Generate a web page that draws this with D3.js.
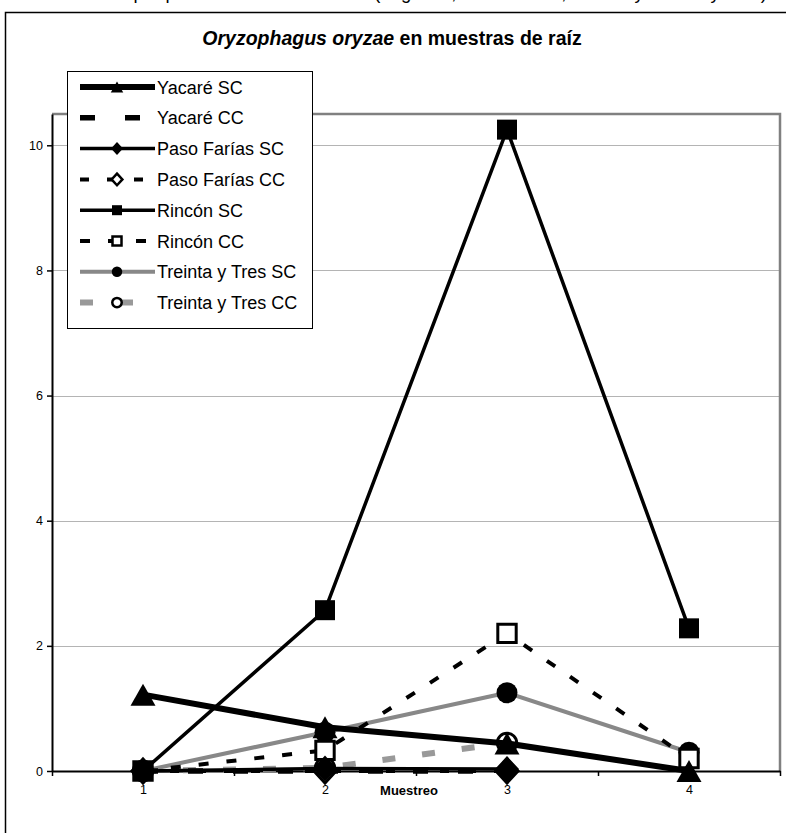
<!DOCTYPE html>
<html><head><meta charset="utf-8">
<script src="https://cdn.jsdelivr.net/npm/d3@7"></script>
<style>
body{margin:0;background:#fff}
svg{display:block;font-family:"Liberation Sans",Arial,sans-serif}
</style>
</head><body>
<svg id="c" width="786" height="833"></svg>
<script>
// ---- data ----
const samples = [1, 2, 3, 4];
const yTicks = [0, 2, 4, 6, 8, 10];
const seriesNames = ["Yacaré SC", "Yacaré CC", "Paso Farías SC", "Paso Farías CC",
                     "Rincón SC", "Rincón CC", "Treinta y Tres SC", "Treinta y Tres CC"];
const yacareSC      = [1.22, 0.70, 0.44, 0];
const yacareCC      = [0, 0, 0, null];
const pasoFariasSC  = [0, 0.04, 0.03, null];
const pasoFariasCC  = [0, 0, 0, null];
const rinconSC      = [0, 2.57, 10.25, 2.28];
const rinconCC      = [0, 0.33, 2.20, 0.20];
const treintaSC     = [0, 0.62, 1.25, 0.30];
const treintaCC     = [0, 0.05, 0.45, null];
const seriesValues = [yacareSC, yacareCC, pasoFariasSC, pasoFariasCC, rinconSC, rinconCC, treintaSC, treintaCC];
const titleItalic = "Oryzophagus oryzae";
const titleRest = " en muestras de raíz";
const xTitle = "Muestreo";
const caption = "Larvas por planta en cada muestreo (Lagunas, Paso Farías, Rincón y Treinta y Tres)";

// ---- styles ----
const styles = [
  {color:"#000", w:6,   dash:null,    marker:"tri",     fill:"#000"},
  {color:"#000", w:5.5, dash:"15,30", marker:null},
  {color:"#000", w:3.5, dash:null,    marker:"diamond", fill:"#000"},
  {color:"#000", w:4,   dash:"9,18",  marker:"diamond", fill:"#fff"},
  {color:"#000", w:3.5, dash:null,    marker:"square",  fill:"#000"},
  {color:"#000", w:4,   dash:"10,18", marker:"square",  fill:"#fff"},
  {color:"#888", w:4,   dash:null,    marker:"circle",  fill:"#000"},
  {color:"#999", w:6,   dash:"13,27", marker:"circle",  fill:"#fff"}
];

const svg = d3.select("#c");
const W = 786, H = 833;
const L = 52, R = 780, T = 114, B = 771;

const x = d3.scaleLinear().domain([0.5, 4.5]).range([L, R]);
const y = d3.scaleLinear().domain([0, 10.5]).range([B, T]);

svg.append("rect").attr("width", W).attr("height", H).attr("fill", "#fff");

// caption above the chart frame (only its lower edge is in view, as in the original)
svg.append("text").attr("x", 767).attr("y", -1).attr("text-anchor", "end")
  .attr("font-size", 18.5).text(caption);

// outer frame
svg.append("path").attr("d", `M5.5,${H} V12.5 H${W}`).attr("fill", "none")
  .attr("stroke", "#000").attr("stroke-width", 1.5);

// title
const title = svg.append("text").attr("x", 392).attr("y", 45).attr("text-anchor", "middle")
  .attr("font-size", 19.5).attr("font-weight", "bold");
title.append("tspan").attr("font-style", "italic").text(titleItalic);
title.append("tspan").text(titleRest);

// gridlines
svg.append("g").selectAll("line").data(yTicks.filter(d => d > 0)).join("line")
  .attr("x1", L).attr("x2", R).attr("y1", d => Math.round(y(d)) + 0.5).attr("y2", d => Math.round(y(d)) + 0.5)
  .attr("stroke", "#b4b4b4").attr("stroke-width", 1);

// plot border top/right
svg.append("path").attr("d", `M${L},${T} H${R} V${B}`).attr("fill", "none")
  .attr("stroke", "#808080").attr("stroke-width", 2.5);

// y axis
const yAxis = svg.append("g").attr("transform", `translate(${L},0)`)
  .call(d3.axisLeft(y).tickValues(yTicks).tickSize(5).tickSizeOuter(0).tickFormat(d3.format("d")));
yAxis.select(".domain").attr("stroke", "#000").attr("stroke-width", 2);
yAxis.selectAll(".tick line").attr("stroke", "#000").attr("stroke-width", 1.5);
yAxis.selectAll("text").attr("font-size", 12.5).attr("font-family", "Liberation Sans, Arial, sans-serif").attr("x", -9);

// x axis: tick marks at category boundaries, labels at centers
const xTickAxis = svg.append("g").attr("transform", `translate(0,${B})`)
  .call(d3.axisBottom(x).tickValues([0.5, 1.5, 2.5, 3.5, 4.5]).tickSize(5).tickSizeOuter(0).tickFormat(""));
xTickAxis.select(".domain").attr("stroke", "#000").attr("stroke-width", 2);
xTickAxis.selectAll(".tick line").attr("stroke", "#000").attr("stroke-width", 1.5);
const xLabAxis = svg.append("g").attr("transform", `translate(0,${B})`)
  .call(d3.axisBottom(x).tickValues(samples).tickSize(0).tickPadding(14).tickFormat(d3.format("d")));
xLabAxis.select(".domain").remove();
xLabAxis.selectAll("text").attr("font-size", 12.5).attr("font-family", "Liberation Sans, Arial, sans-serif");

svg.append("text").attr("x", 409).attr("y", 795).attr("text-anchor", "middle")
  .attr("font-size", 13).attr("font-weight", "bold").text(xTitle);

// marker path builder
function markerPath(type, s) {
  if (type === "tri") { const w = 25 * s, h = 22 * s; return `M0,${-h/2}L${w/2},${h/2}L${-w/2},${h/2}Z`; }
  if (type === "diamond") { const w = 24 * s, h = 26 * s; return `M0,${-h/2}L${w/2},0L0,${h/2}L${-w/2},0Z`; }
  if (type === "square") { const a = 20 * s; return `M${-a/2},${-a/2}h${a}v${a}h${-a}Z`; }
  if (type === "circle") { const r = 10.5 * s; return d3.arc()({innerRadius:0, outerRadius:r, startAngle:0, endAngle:2*Math.PI}); }
  return null;
}

const line = d3.line().defined(d => d.v != null).x(d => x(d.s)).y(d => y(d.v));

// series (drawn in reverse order, as in the original)
const plot = svg.append("g");
for (let i = seriesValues.length - 1; i >= 0; i--) {
  const st = styles[i];
  const pts = samples.map((s, k) => ({s, v: seriesValues[i][k]}));
  plot.append("path").datum(pts).attr("d", line).attr("fill", "none")
    .attr("stroke", st.color).attr("stroke-width", st.w)
    .attr("stroke-dasharray", st.dash).attr("stroke-linejoin", "round");
  if (st.marker) {
    const open = st.fill === "#fff";
    const sc = open ? 0.92 : 1;
    plot.append("g").selectAll("path").data(pts.filter(d => d.v != null)).join("path")
      .attr("transform", d => `translate(${x(d.s)},${y(d.v)})`)
      .attr("d", markerPath(st.marker, sc))
      .attr("fill", st.fill).attr("stroke", "#000").attr("stroke-width", open ? 3 : 0);
  }
}

// legend
const lg = svg.append("g");
lg.append("rect").attr("x", 67.5).attr("y", 71.5).attr("width", 245).attr("height", 257)
  .attr("fill", "#fff").attr("stroke", "#000").attr("stroke-width", 1);
seriesNames.forEach((name, i) => {
  const st = styles[i];
  const cy = 87 + i * 30.8;
  lg.append("line").attr("x1", 80).attr("x2", 155).attr("y1", cy).attr("y2", cy)
    .attr("stroke", st.color).attr("stroke-width", st.w).attr("stroke-dasharray", st.dash);
  if (st.marker) {
    const open = st.fill === "#fff";
    lg.append("path").attr("transform", `translate(117,${cy})`)
      .attr("d", markerPath(st.marker, open ? 0.45 : 0.5))
      .attr("fill", st.fill).attr("stroke", "#000").attr("stroke-width", open ? 2.5 : 0);
  }
  lg.append("text").attr("x", 157).attr("y", cy + 6.5).attr("font-size", 18).text(name);
});
</script>
</body></html>
